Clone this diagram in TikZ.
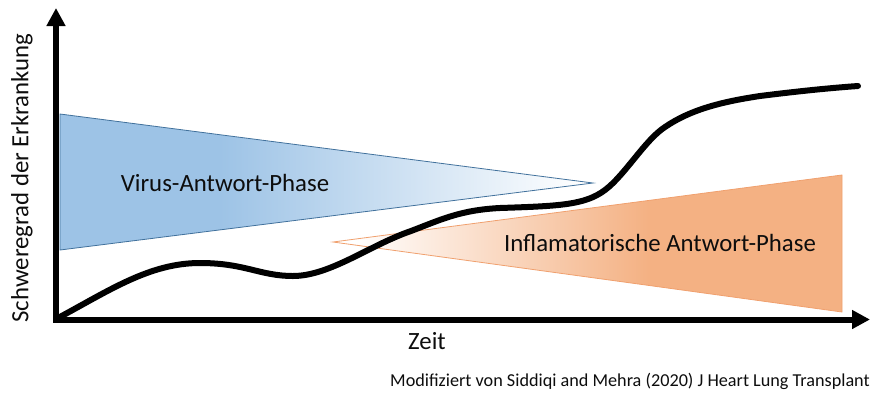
\documentclass[tikz,border=0pt]{standalone}
\usepackage{fontspec}
\setmainfont{Carlito}
\usepackage{xcolor}
\usepackage{tikz}
\usetikzlibrary{arrows.meta}
\definecolor{virusblue}{RGB}{157, 195, 230}
\definecolor{virusedge}{RGB}{65, 113, 156}
\definecolor{inflamorange}{RGB}{244, 177, 131}
\definecolor{inflamedge}{RGB}{240, 160, 110}
\definecolor{labeltext}{RGB}{13, 13, 13}
\pgfdeclarehorizontalshading{virusfade}{100bp}{color(0bp)=(virusblue); color(40bp)=(virusblue); color(74bp)=(white); color(100bp)=(white)}
\pgfdeclarehorizontalshading{inflamfade}{100bp}{color(0bp)=(white); color(27bp)=(white); color(56bp)=(inflamorange); color(100bp)=(inflamorange)}

\begin{document}
\begin{tikzpicture}[x=1pt, y=-1pt, >={Triangle[length=18pt,width=18pt]}, every node/.style={font=\fontsize{24.8}{28}\selectfont, text=labeltext}]

\useasboundingbox (0,0) rectangle (881,400);

% Virus phase wedge
\shadedraw[shading=virusfade, draw=virusedge, line width=0.8pt] (60,114) -- (593,183) -- (60,250) -- cycle;

% Inflammatory phase wedge
\shadedraw[shading=inflamfade, draw=inflamedge, line width=0.8pt] (333,242) -- (842,175) -- (842,312) -- cycle;

% Disease course
\draw[line width=6pt, line cap=round] (58,318) .. controls (110,290) and (150,263) .. (200,263)
  .. controls (245,263) and (260,276) .. (293,276)
  .. controls (330,276) and (370,245) .. (411,231)
  .. controls (440,220) and (460,210) .. (500,208)
  .. controls (560,206) and (585,205) .. (605,190)
  .. controls (625,175) and (645,140) .. (665,127)
  .. controls (690,110) and (720,102) .. (760,96)
  .. controls (800,91) and (830,88) .. (858,86);

% Axes
\coordinate (ytip) at (56,8);
\coordinate (xtip) at (870,319.5);
\draw[<->, line width=6pt] (ytip) |- (xtip);

% Labels
\node at (225,183) (virus) {Virus-Antwort-Phase};
\node at (660,243) (inflam) {Inflamatorische Antwort-Phase};
\node at (427,341) (zeit) {Zeit};
\node[rotate=90] at (22,178) (ylabel) {Schweregrad der Erkrankung};
\node[font=\fontsize{18.2}{21}\selectfont] at (630,381) (source) {Modifiziert von Siddiqi and Mehra (2020) J Heart Lung Transplant};

\end{tikzpicture}
\end{document}
